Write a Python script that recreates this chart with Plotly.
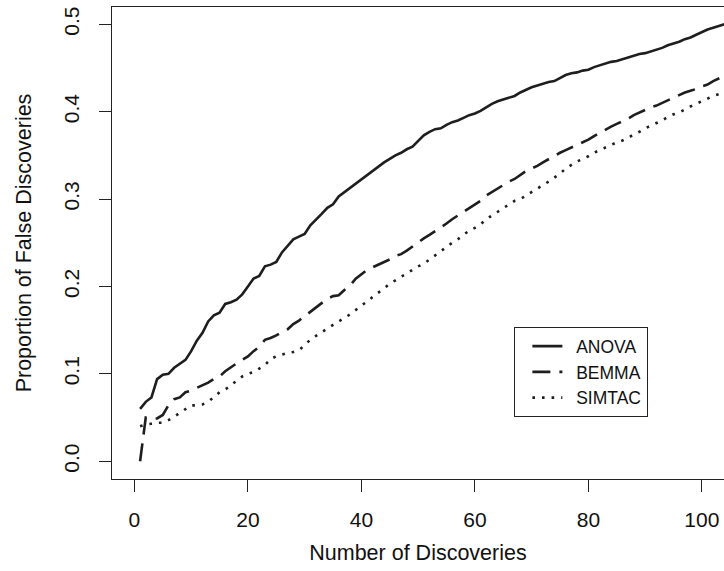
import plotly.graph_objects as go

discoveries = list(range(1, 106))

anova = [0.060, 0.068, 0.073, 0.094, 0.099, 0.100, 0.107, 0.112, 0.116, 0.126,
         0.138, 0.147, 0.160, 0.167, 0.170, 0.180, 0.182, 0.185, 0.191, 0.200,
         0.209, 0.212, 0.223, 0.225, 0.228, 0.239, 0.247, 0.254, 0.257, 0.260,
         0.270, 0.276, 0.283, 0.290, 0.294, 0.303, 0.308, 0.312, 0.318, 0.322,
         0.328, 0.333, 0.338, 0.342, 0.346, 0.350, 0.353, 0.357, 0.360, 0.366,
         0.373, 0.377, 0.380, 0.381, 0.385, 0.388, 0.390, 0.393, 0.396, 0.398,
         0.401, 0.405, 0.409, 0.412, 0.414, 0.416, 0.418, 0.422, 0.425, 0.428,
         0.430, 0.432, 0.434, 0.435, 0.439, 0.442, 0.444, 0.445, 0.447, 0.448,
         0.451, 0.453, 0.455, 0.457, 0.458, 0.460, 0.462, 0.464, 0.466, 0.467,
         0.469, 0.471, 0.473, 0.476, 0.478, 0.480, 0.483, 0.485, 0.488, 0.491,
         0.494, 0.496, 0.498, 0.500, 0.502]

bemma = [0.000, 0.050, 0.049, 0.049, 0.053, 0.064, 0.071, 0.073, 0.079, 0.081,
         0.084, 0.087, 0.090, 0.094, 0.097, 0.103, 0.108, 0.112, 0.116, 0.120,
         0.126, 0.131, 0.139, 0.141, 0.144, 0.148, 0.151, 0.157, 0.161, 0.166,
         0.170, 0.175, 0.181, 0.186, 0.189, 0.190, 0.196, 0.201, 0.209, 0.214,
         0.219, 0.222, 0.225, 0.228, 0.231, 0.235, 0.237, 0.241, 0.246, 0.251,
         0.255, 0.259, 0.263, 0.268, 0.272, 0.277, 0.281, 0.285, 0.290, 0.294,
         0.298, 0.304, 0.308, 0.312, 0.316, 0.320, 0.323, 0.328, 0.332, 0.335,
         0.338, 0.342, 0.346, 0.350, 0.353, 0.356, 0.359, 0.362, 0.365, 0.368,
         0.372, 0.376, 0.380, 0.383, 0.386, 0.389, 0.392, 0.396, 0.399, 0.402,
         0.405, 0.407, 0.410, 0.413, 0.416, 0.419, 0.422, 0.424, 0.426, 0.429,
         0.431, 0.435, 0.438, 0.441, 0.444]

simtac = [0.040, 0.042, 0.043, 0.044, 0.044, 0.047, 0.051, 0.055, 0.060, 0.064,
          0.064, 0.065, 0.068, 0.073, 0.079, 0.082, 0.087, 0.092, 0.097, 0.100,
          0.102, 0.106, 0.110, 0.117, 0.120, 0.122, 0.124, 0.125, 0.127, 0.133,
          0.139, 0.1435, 0.148, 0.152, 0.156, 0.160, 0.164, 0.168, 0.173, 0.178,
          0.183, 0.188, 0.193, 0.199, 0.203, 0.207, 0.211, 0.215, 0.220, 0.223,
          0.226, 0.231, 0.236, 0.241, 0.246, 0.250, 0.254, 0.259, 0.264, 0.267,
          0.271, 0.277, 0.281, 0.285, 0.290, 0.294, 0.298, 0.300, 0.304, 0.309,
          0.313, 0.316, 0.320, 0.324, 0.329, 0.335, 0.339, 0.343, 0.346, 0.349,
          0.353, 0.356, 0.359, 0.362, 0.365, 0.367, 0.370, 0.374, 0.377, 0.381,
          0.384, 0.387, 0.390, 0.394, 0.397, 0.399, 0.403, 0.406, 0.409, 0.412,
          0.415, 0.418, 0.420, 0.423, 0.426]

x_ticks = [0, 20, 40, 60, 80, 100]
y_ticks = [0.0, 0.1, 0.2, 0.3, 0.4, 0.5]
series_names = ["ANOVA", "BEMMA", "SIMTAC"]

INK = "#1e1e1e"
FONT = "Liberation Sans, Arial, Helvetica, sans-serif"
PAD = "\u2002"  # small lead-in so legend labels sit where the original's do

fig = go.Figure()
fig.add_trace(go.Scatter(x=discoveries, y=anova, mode="lines", name=PAD + series_names[0],
                         line=dict(color=INK, width=2.6, dash="solid")))
fig.add_trace(go.Scatter(x=discoveries, y=bemma, mode="lines", name=PAD + series_names[1],
                         line=dict(color=INK, width=2.6, dash="18px,9px")))
fig.add_trace(go.Scatter(x=discoveries, y=simtac, mode="lines", name=PAD + series_names[2],
                         line=dict(color=INK, width=2.6, dash="2.6px,7px")))

fig.update_layout(
    width=724, height=571,
    margin=dict(l=112, r=0, t=7, b=92, autoexpand=False),
    paper_bgcolor="white", plot_bgcolor="white",
    font=dict(family=FONT, size=21, color="#111"),
    showlegend=True,
    legend=dict(
        x=0.657, y=0.2268, xanchor="left", yanchor="middle",
        bordercolor="#222", borderwidth=1.3, bgcolor="white",
        font=dict(family=FONT, size=17.5, color="#111"),
        indentation=12, tracegroupgap=0,
    ),
)

fig.update_xaxes(
    range=[-3.95, 103.9], tickvals=x_ticks, ticktext=[str(v) for v in x_ticks],
    automargin=False,
    showgrid=False, zeroline=False,
    showline=True, linecolor="#222", linewidth=1.3, mirror=True,
    ticks="outside", ticklen=12, tickwidth=1.3, tickcolor="#222",
    ticklabelstandoff=10,
    title=dict(text="Number of Discoveries", font=dict(size=21.5), standoff=14),
)
fig.update_yaxes(
    range=[-0.0203, 0.5198], tickvals=y_ticks, ticktext=[f"{v:.1f}" for v in y_ticks],
    tickangle=-90, automargin=False,
    showgrid=False, zeroline=False,
    showline=True, linecolor="#222", linewidth=1.3, mirror=False,
    ticks="outside", ticklen=12, tickwidth=1.3, tickcolor="#222",
    ticklabelstandoff=11,
    title=dict(text="Proportion of False Discoveries", font=dict(size=21.5), standoff=22),
)

fig.write_html("out.html", config={"displayModeBar": False},
               post_script="document.body.style.margin='0';")
